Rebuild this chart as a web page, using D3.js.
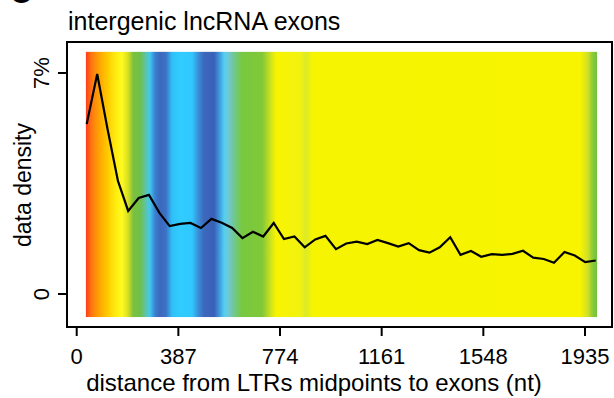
<!DOCTYPE html>
<html>
<head>
<meta charset="utf-8">
<script src="https://cdn.jsdelivr.net/npm/d3@7"></script>
<style>
  body { margin: 0; background: #fff; }
  text { font-family: "Liberation Sans", Arial, sans-serif; fill: #000; }
</style>
</head>
<body>
<svg id="chart" width="614" height="398"></svg>
<script>
// distance (nt) of each density point
var distance = [38, 78, 117, 157, 196, 236, 275, 315, 354, 394, 433, 473, 513, 552, 592,
    631, 671, 710, 750, 789, 829, 868, 908, 947, 987, 1026, 1066, 1106, 1145, 1185,
    1224, 1264, 1303, 1343, 1382, 1422, 1461, 1501, 1540, 1580, 1620, 1659, 1699, 1738,
    1778, 1817, 1857, 1896, 1936, 1976];
// data density (%)
var density = [5.38, 6.97, 5.24, 3.58, 2.63, 3.04, 3.14, 2.57, 2.15, 2.22, 2.25, 2.09, 2.38, 2.26, 2.09,
    1.77, 1.97, 1.82, 2.25, 1.74, 1.82, 1.48, 1.73, 1.84, 1.42, 1.60, 1.66, 1.58, 1.71, 1.61,
    1.50, 1.61, 1.39, 1.31, 1.48, 1.80, 1.24, 1.36, 1.18, 1.26, 1.24, 1.27, 1.37, 1.15,
    1.11, 0.99, 1.33, 1.22, 1.01, 1.06];

var xTicks = [0, 387, 774, 1161, 1548, 1935];
var yTicks = [0, 7];
var yTickLabels = ["0", "7%"];

// background colour band (position in nt, colour)
var bandPos = [35, 58, 89, 119, 150, 172, 195, 215, 241, 264, 279, 298, 317, 340, 363, 393,
    439, 462, 485, 523, 546, 561, 576, 599, 629, 706, 736, 759, 850, 873, 896, 1916, 1946, 1962, 1981];
var bandCol = ["#ff3d1a", "#ff7a10", "#ffa800", "#ffcc00", "#ffee10", "#fffa20", "#d8e020", "#7cc040",
    "#70c048", "#5cc4b0", "#40c8f0", "#3a80d0", "#3c68bc", "#3c72c6", "#30c0f8", "#30ccff",
    "#30c8ff", "#3a90d8", "#3c68bc", "#3a60b8", "#40a0e0", "#50d0f0", "#70c8d8", "#70c890",
    "#78c840", "#80c838", "#c8e020", "#f8f400", "#f2f210", "#dcea28", "#f6f400", "#f8f400",
    "#d0e028", "#90cc38", "#70c040"];

var svg = d3.select("#chart");

var x = d3.scaleLinear().domain([0, 1935]).range([76.7, 585]);
var y = d3.scaleLinear().domain([0, 7]).range([294, 73]);

var box = {left: 67, right: 612, top: 42, bottom: 327};

// gradient band
var grad = svg.append("defs").append("linearGradient")
    .attr("id", "band")
    .attr("gradientUnits", "userSpaceOnUse")
    .attr("x1", x(bandPos[0])).attr("x2", x(bandPos[bandPos.length - 1]))
    .attr("y1", 0).attr("y2", 0);

var span = bandPos[bandPos.length - 1] - bandPos[0];
grad.selectAll("stop")
    .data(bandPos)
    .enter().append("stop")
    .attr("offset", function (d) { return (d - bandPos[0]) / span; })
    .attr("stop-color", function (d, i) { return bandCol[i]; });

svg.append("rect")
    .attr("x", x(bandPos[0]))
    .attr("width", x(bandPos[bandPos.length - 1]) - x(bandPos[0]))
    .attr("y", y(7.67))
    .attr("height", y(-0.73) - y(7.67))
    .attr("fill", "url(#band)");

// density line
var line = d3.line()
    .x(function (d, i) { return x(distance[i]); })
    .y(function (d) { return y(d); });

svg.append("path")
    .datum(density)
    .attr("d", line)
    .attr("fill", "none")
    .attr("stroke", "#000")
    .attr("stroke-width", 2.2)
    .attr("stroke-linejoin", "miter");

// box
svg.append("rect")
    .attr("x", box.left).attr("y", box.top)
    .attr("width", box.right - box.left).attr("height", box.bottom - box.top)
    .attr("fill", "none").attr("stroke", "#000").attr("stroke-width", 2);

// x axis
var gx = svg.append("g");
gx.selectAll("line")
    .data(xTicks)
    .enter().append("line")
    .attr("x1", function (d) { return x(d); })
    .attr("x2", function (d) { return x(d); })
    .attr("y1", box.bottom).attr("y2", box.bottom + 9)
    .attr("stroke", "#000").attr("stroke-width", 2);
gx.selectAll("text")
    .data(xTicks)
    .enter().append("text")
    .attr("x", function (d) { return x(d); })
    .attr("y", 364)
    .attr("text-anchor", "middle")
    .style("font-size", "22px")
    .text(function (d) { return d; });

// y axis
var gy = svg.append("g");
gy.selectAll("line")
    .data(yTicks)
    .enter().append("line")
    .attr("x1", box.left - 9).attr("x2", box.left)
    .attr("y1", function (d) { return y(d); })
    .attr("y2", function (d) { return y(d); })
    .attr("stroke", "#000").attr("stroke-width", 2);
gy.selectAll("text")
    .data(yTicks)
    .enter().append("text")
    .attr("transform", function (d) { return "translate(49," + y(d) + ") rotate(-90)"; })
    .attr("text-anchor", "middle")
    .style("font-size", "22px")
    .text(function (d, i) { return yTickLabels[i]; });

// labels
svg.append("text")
    .attr("transform", "translate(31,185) rotate(-90)")
    .attr("text-anchor", "middle")
    .style("font-size", "23px")
    .text("data density");

svg.append("text")
    .attr("x", 314).attr("y", 391)
    .attr("text-anchor", "middle")
    .style("font-size", "24px")
    .text("distance from LTRs midpoints to exons (nt)");

svg.append("text")
    .attr("x", 68).attr("y", 30)
    .style("font-size", "25px")
    .text("intergenic lncRNA exons");

// panel letter cut off at the top
svg.append("text")
    .attr("x", 10).attr("y", 3)
    .style("font-size", "30px")
    .style("font-weight", "bold")
    .text("C");
</script>
</body>
</html>
